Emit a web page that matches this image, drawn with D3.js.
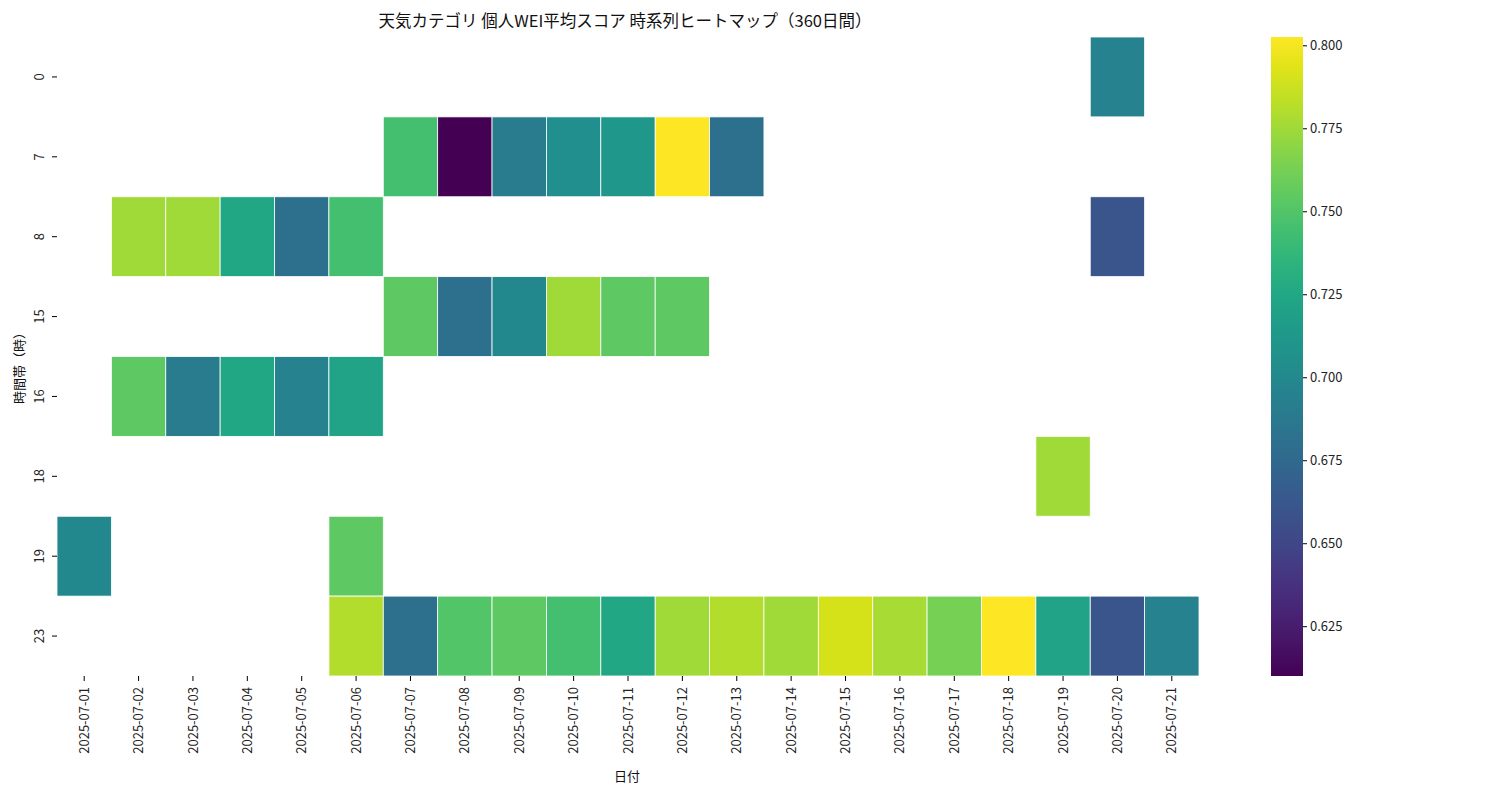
<!DOCTYPE html>
<html><head><meta charset="utf-8">
<script src="https://cdn.jsdelivr.net/npm/d3@7"></script>
<style>body{margin:0;background:#fff;font-family:"Noto Sans CJK JP","DejaVu Sans",sans-serif;}</style>
</head><body><svg id="c" width="1500" height="800"></svg>
<script>
const dates = ["2025-07-01","2025-07-02","2025-07-03","2025-07-04","2025-07-05","2025-07-06","2025-07-07","2025-07-08","2025-07-09","2025-07-10","2025-07-11","2025-07-12","2025-07-13","2025-07-14","2025-07-15","2025-07-16","2025-07-17","2025-07-18","2025-07-19","2025-07-20","2025-07-21"];
const hours = ["0","7","8","15","16","18","19","23"];
const cellHour = ["0","7","7","7","7","7","7","7","8","8","8","8","8","8","15","15","15","15","15","15","16","16","16","16","16","18","19","19","23","23","23","23","23","23","23","23","23","23","23","23","23","23","23","23"];
const cellDate = ["2025-07-20","2025-07-07","2025-07-08","2025-07-09","2025-07-10","2025-07-11","2025-07-12","2025-07-13","2025-07-02","2025-07-03","2025-07-04","2025-07-05","2025-07-06","2025-07-20","2025-07-07","2025-07-08","2025-07-09","2025-07-10","2025-07-11","2025-07-12","2025-07-02","2025-07-03","2025-07-04","2025-07-05","2025-07-06","2025-07-19","2025-07-01","2025-07-06","2025-07-06","2025-07-07","2025-07-08","2025-07-09","2025-07-10","2025-07-11","2025-07-12","2025-07-13","2025-07-14","2025-07-15","2025-07-16","2025-07-17","2025-07-18","2025-07-19","2025-07-20","2025-07-21"];
const cellValue = [0.695,0.745,0.610,0.690,0.705,0.712,0.802,0.680,0.775,0.775,0.725,0.680,0.745,0.660,0.755,0.680,0.700,0.775,0.755,0.755,0.755,0.690,0.725,0.695,0.722,0.775,0.700,0.755,0.780,0.680,0.750,0.755,0.745,0.725,0.775,0.780,0.775,0.790,0.777,0.762,0.802,0.722,0.660,0.695];
const cbTicks = [0.625,0.650,0.675,0.700,0.725,0.750,0.775,0.800];

const svg = d3.select("#c");
const L=57,R=1199,T=37,B=676;
const x = d3.scaleBand().domain(dates).range([L,R]);
const y = d3.scaleBand().domain(hours).range([T,B]);
const vmin=0.610,vmax=0.8025;
const color = d3.scaleSequential(d3.interpolateViridis).domain([vmin,vmax]);
const font='"Noto Sans CJK JP","DejaVu Sans",sans-serif';

svg.append("g").selectAll("rect").data(cellValue).join("rect")
 .attr("x",(d,i)=>x(cellDate[i])).attr("y",(d,i)=>y(cellHour[i]))
 .attr("width",x.bandwidth()).attr("height",y.bandwidth())
 .attr("fill",d=>color(d)).attr("stroke","#fff").attr("stroke-width",0.8);

const xa = svg.append("g").attr("transform",`translate(0,${B})`).call(d3.axisBottom(x).tickSize(5));
xa.select(".domain").remove();
xa.selectAll("text").attr("transform","rotate(-90)").attr("text-anchor","end").attr("x",-11).attr("y",0).attr("dy","0.35em").attr("font-size",13).attr("font-family",font).attr("fill","#222");
const ya = svg.append("g").attr("transform",`translate(${L},0)`).call(d3.axisLeft(y).tickSize(5));
ya.select(".domain").remove();
ya.selectAll(".tick text").attr("transform","translate(-18,0) rotate(-90)").attr("text-anchor","middle").attr("x",0).attr("y",0).attr("dy","0.35em").attr("font-size",13).attr("font-family",font).attr("fill","#222");

// colorbar
const cbX=1271,cbW=32;
const cy = d3.scaleLinear().domain([vmin,vmax]).range([B,T]);
const defs=svg.append("defs");
const gr=defs.append("linearGradient").attr("id","g").attr("x1",0).attr("y1",1).attr("x2",0).attr("y2",0);
d3.range(0,1.0001,0.05).forEach(t=>gr.append("stop").attr("offset",t).attr("stop-color",d3.interpolateViridis(t)));
svg.append("rect").attr("x",cbX).attr("y",T).attr("width",cbW).attr("height",B-T).attr("fill","url(#g)");
const ca=svg.append("g").attr("transform",`translate(${cbX+cbW},0)`).call(d3.axisRight(cy).tickValues(cbTicks).tickFormat(d3.format(".3f")).tickSize(4));
ca.select(".domain").remove();
ca.selectAll("text").attr("font-size",13).attr("font-family",font).attr("fill","#222");

svg.append("text").attr("x",625).attr("y",27).attr("text-anchor","middle").attr("font-size",16.5).attr("font-family",font).attr("fill","#111").text("天気カテゴリ 個人WEI平均スコア 時系列ヒートマップ（360日間）");
svg.append("text").attr("x",627).attr("y",781).attr("text-anchor","middle").attr("font-size",13).attr("font-family",font).attr("fill","#111").text("日付");
svg.append("text").attr("transform","translate(24,365) rotate(-90)").attr("text-anchor","middle").attr("font-size",13).attr("font-family",font).attr("fill","#111").text("時間帯（時）");
</script></body></html>
